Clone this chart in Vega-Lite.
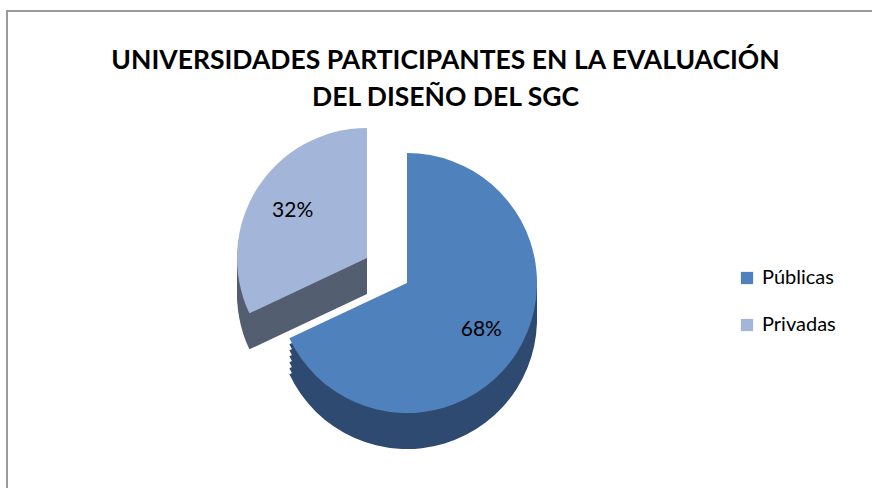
{
  "$schema": "https://vega.github.io/schema/vega-lite/v6.json",
  "width": 872,
  "height": 488,
  "autosize": {"type": "fit", "contains": "padding"},
  "padding": {"left": 7, "top": 11, "right": -4, "bottom": -4},
  "background": "white",
  "config": {"view": {"stroke": "#9a9a9a", "strokeWidth": 2}},
  "title": {
    "text": ["UNIVERSIDADES PARTICIPANTES EN LA EVALUACIÓN", "DEL DISEÑO DEL SGC"],
    "font": "Lato",
    "fontSize": 26.5,
    "fontWeight": "bold",
    "color": "#000000",
    "lineHeight": 37,
    "anchor": "middle",
    "frame": "group",
    "dx": 4,
    "offset": -100
  },
  "data": {
    "values": [
      {"cat": "Públicas", "value": 68, "label": "68%", "ord": 1},
      {"cat": "Privadas", "value": 32, "label": "32%", "ord": 2}
    ]
  },
  "transform": [
    {"stack": "value", "groupby": [], "sort": [{"field": "ord"}], "as": ["t0", "t1"]}
  ],
  "layer": [
    {"transform": [{"filter": "datum.cat === 'Privadas'"}], "mark": {"type": "arc", "radius": 130, "xOffset": -40, "yOffset": 11, "color": "#535E70"},
      "encoding": {"theta": {"field": "t0", "type": "quantitative", "scale": {"domain": [0, 100]}}, "theta2": {"field": "t1"}, "x": {"value": 400}, "y": {"value": 272}}},
    {"transform": [{"filter": "datum.cat === 'Privadas'"}], "mark": {"type": "arc", "radius": 130, "xOffset": -40, "yOffset": 5, "color": "#535E70"},
      "encoding": {"theta": {"field": "t0", "type": "quantitative", "scale": {"domain": [0, 100]}}, "theta2": {"field": "t1"}, "x": {"value": 400}, "y": {"value": 272}}},
    {"transform": [{"filter": "datum.cat === 'Privadas'"}], "mark": {"type": "arc", "radius": 130, "xOffset": -40, "yOffset": -1, "color": "#535E70"},
      "encoding": {"theta": {"field": "t0", "type": "quantitative", "scale": {"domain": [0, 100]}}, "theta2": {"field": "t1"}, "x": {"value": 400}, "y": {"value": 272}}},
    {"transform": [{"filter": "datum.cat === 'Privadas'"}], "mark": {"type": "arc", "radius": 130, "xOffset": -40, "yOffset": -7, "color": "#535E70"},
      "encoding": {"theta": {"field": "t0", "type": "quantitative", "scale": {"domain": [0, 100]}}, "theta2": {"field": "t1"}, "x": {"value": 400}, "y": {"value": 272}}},
    {"transform": [{"filter": "datum.cat === 'Privadas'"}], "mark": {"type": "arc", "radius": 130, "xOffset": -40, "yOffset": -13, "color": "#535E70"},
      "encoding": {"theta": {"field": "t0", "type": "quantitative", "scale": {"domain": [0, 100]}}, "theta2": {"field": "t1"}, "x": {"value": 400}, "y": {"value": 272}}},
    {"transform": [{"filter": "datum.cat === 'Privadas'"}], "mark": {"type": "arc", "radius": 130, "xOffset": -40, "yOffset": -19, "color": "#535E70"},
      "encoding": {"theta": {"field": "t0", "type": "quantitative", "scale": {"domain": [0, 100]}}, "theta2": {"field": "t1"}, "x": {"value": 400}, "y": {"value": 272}}},
    {"transform": [{"filter": "datum.cat === 'Privadas'"}], "mark": {"type": "arc", "radius": 130, "xOffset": -40, "yOffset": -25},
      "encoding": {"theta": {"field": "t0", "type": "quantitative", "scale": {"domain": [0, 100]}}, "theta2": {"field": "t1"}, "x": {"value": 400}, "y": {"value": 272},
        "color": {"field": "cat", "type": "nominal", "scale": {"domain": ["Públicas", "Privadas"], "range": ["#4F81BD", "#A3B5D8"]},
          "legend": {"title": null, "orient": "none", "legendX": 730, "legendY": 257, "symbolType": "square", "symbolSize": 150, "symbolStrokeWidth": 0, "labelFont": "Lato", "labelFontSize": 20, "labelColor": "#000000", "labelOffset": 5, "rowPadding": 27}}}},
    {"transform": [{"filter": "datum.cat === 'Públicas'"}], "mark": {"type": "arc", "radius": 130, "yOffset": 36, "color": "#2E4A70"},
      "encoding": {"theta": {"field": "t0", "type": "quantitative", "scale": {"domain": [0, 100]}}, "theta2": {"field": "t1"}, "x": {"value": 400}, "y": {"value": 272}}},
    {"transform": [{"filter": "datum.cat === 'Públicas'"}], "mark": {"type": "arc", "radius": 130, "yOffset": 30, "color": "#2E4A70"},
      "encoding": {"theta": {"field": "t0", "type": "quantitative", "scale": {"domain": [0, 100]}}, "theta2": {"field": "t1"}, "x": {"value": 400}, "y": {"value": 272}}},
    {"transform": [{"filter": "datum.cat === 'Públicas'"}], "mark": {"type": "arc", "radius": 130, "yOffset": 24, "color": "#2E4A70"},
      "encoding": {"theta": {"field": "t0", "type": "quantitative", "scale": {"domain": [0, 100]}}, "theta2": {"field": "t1"}, "x": {"value": 400}, "y": {"value": 272}}},
    {"transform": [{"filter": "datum.cat === 'Públicas'"}], "mark": {"type": "arc", "radius": 130, "yOffset": 18, "color": "#2E4A70"},
      "encoding": {"theta": {"field": "t0", "type": "quantitative", "scale": {"domain": [0, 100]}}, "theta2": {"field": "t1"}, "x": {"value": 400}, "y": {"value": 272}}},
    {"transform": [{"filter": "datum.cat === 'Públicas'"}], "mark": {"type": "arc", "radius": 130, "yOffset": 12, "color": "#2E4A70"},
      "encoding": {"theta": {"field": "t0", "type": "quantitative", "scale": {"domain": [0, 100]}}, "theta2": {"field": "t1"}, "x": {"value": 400}, "y": {"value": 272}}},
    {"transform": [{"filter": "datum.cat === 'Públicas'"}], "mark": {"type": "arc", "radius": 130, "yOffset": 6, "color": "#2E4A70"},
      "encoding": {"theta": {"field": "t0", "type": "quantitative", "scale": {"domain": [0, 100]}}, "theta2": {"field": "t1"}, "x": {"value": 400}, "y": {"value": 272}}},
    {"transform": [{"filter": "datum.cat === 'Públicas'"}], "mark": {"type": "arc", "radius": 130},
      "encoding": {"theta": {"field": "t0", "type": "quantitative", "scale": {"domain": [0, 100]}}, "theta2": {"field": "t1"}, "x": {"value": 400}, "y": {"value": 272},
        "color": {"field": "cat", "type": "nominal", "scale": {"domain": ["Públicas", "Privadas"], "range": ["#4F81BD", "#A3B5D8"]}}}},
    {"mark": {"type": "text", "radius": 88, "font": "Lato", "fontSize": 21, "color": "#000000"},
      "encoding": {"theta": {"field": "value", "type": "quantitative", "stack": true}, "order": {"field": "ord"}, "detail": {"field": "cat"}, "x": {"value": 400}, "y": {"value": 272},
        "text": {"condition": {"test": "datum.cat === 'Públicas'", "field": "label"}, "value": ""}}},
    {"mark": {"type": "text", "radius": 88, "font": "Lato", "fontSize": 21, "color": "#000000", "xOffset": -40, "yOffset": -25},
      "encoding": {"theta": {"field": "value", "type": "quantitative", "stack": true}, "order": {"field": "ord"}, "detail": {"field": "cat"}, "x": {"value": 400}, "y": {"value": 272},
        "text": {"condition": {"test": "datum.cat === 'Privadas'", "field": "label"}, "value": ""}}}
  ]
}
